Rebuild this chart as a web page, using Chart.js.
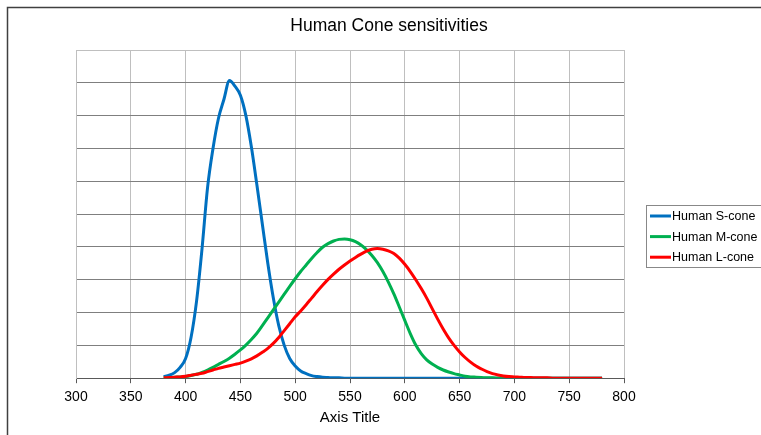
<!DOCTYPE html>
<html lang="en">
<head>
  <meta charset="UTF-8" />
  <title>Human Cone sensitivities</title>
  <script src="https://cdn.jsdelivr.net/npm/chart.js"></script>
  <style>
    html, body { margin:0; padding:0; background:#fff; }
    canvas { display:block; }
  </style>
</head>
<body>
  <canvas id="chart" width="761" height="435"></canvas>

  <script>
    const chartTitle = 'Human Cone sensitivities';
    const xTitle = 'Axis Title';
    const seriesNames = ['Human S-cone', 'Human M-cone', 'Human L-cone'];
    const seriesColors = ['#0070C0', '#00B050', '#FF0000'];

    // wavelength in nm
    const wavelengths = [
      380, 385, 390, 395, 400, 405, 410, 415, 420, 425,
      430, 435, 440, 445, 450, 455, 460, 465, 470, 475,
      480, 485, 490, 495, 500, 505, 510, 515, 520, 525,
      530, 535, 540, 545, 550, 555, 560, 565, 570, 575,
      580, 585, 590, 595, 600, 605, 610, 615, 620, 625,
      630, 635, 640, 645, 650, 655, 660, 665, 670, 675,
      680, 685, 690, 695, 700, 705, 710, 715, 720, 725,
      730, 735, 740, 745, 750, 755, 760, 765, 770, 775,
      780
    ];

    const sCone = [
      0.005, 0.009, 0.017, 0.033, 0.060, 0.125, 0.235, 0.395, 0.580, 0.700,
      0.792, 0.850, 0.907, 0.890, 0.862, 0.800, 0.705, 0.590, 0.470, 0.350,
      0.245, 0.160, 0.100, 0.060, 0.037, 0.022, 0.014, 0.008, 0.005, 0.003,
      0.002, 0.001, 0.001, 0, 0, 0, 0, 0, 0, 0,
      0, 0, 0, 0, 0, 0, 0, 0, 0, 0,
      0, 0, 0, 0, 0, 0, 0, 0, 0, 0,
      0, 0, 0, 0, 0, 0, 0, 0, 0, 0,
      0, 0, 0, 0, 0, 0, 0, 0, 0, 0,
      0
    ];

    const mCone = [
      0.001, 0.002, 0.003, 0.004, 0.005, 0.008, 0.012, 0.018, 0.025, 0.033,
      0.042, 0.051, 0.061, 0.073, 0.086, 0.101, 0.118, 0.137, 0.160, 0.184,
      0.208, 0.232, 0.256, 0.280, 0.303, 0.325, 0.345, 0.365, 0.383, 0.399,
      0.410, 0.418, 0.423, 0.424, 0.422, 0.416, 0.406, 0.392, 0.374, 0.352,
      0.325, 0.293, 0.257, 0.217, 0.176, 0.136, 0.101, 0.075, 0.056, 0.043,
      0.033, 0.025, 0.019, 0.014, 0.010, 0.006, 0.004, 0.003, 0.002, 0.001,
      0.001, 0, 0, 0, 0, 0, 0, 0, 0, 0,
      0, 0, 0, 0, 0, 0, 0, 0, 0, 0,
      0
    ];

    const lCone = [
      0.001, 0.002, 0.003, 0.004, 0.006, 0.009, 0.012, 0.015, 0.020, 0.025,
      0.030, 0.034, 0.038, 0.042, 0.046, 0.052, 0.059, 0.068, 0.079, 0.091,
      0.106, 0.124, 0.145, 0.166, 0.187, 0.205, 0.224, 0.244, 0.264, 0.283,
      0.301, 0.317, 0.332, 0.345, 0.357, 0.368, 0.378, 0.387, 0.393, 0.395,
      0.393, 0.388, 0.380, 0.366, 0.347, 0.325, 0.300, 0.273, 0.244, 0.212,
      0.180, 0.150, 0.123, 0.100, 0.080, 0.063, 0.049, 0.037, 0.028, 0.020,
      0.014, 0.010, 0.007, 0.005, 0.004, 0.003, 0.002, 0.002, 0.001, 0.001,
      0.001, 0, 0, 0, 0, 0, 0, 0, 0, 0,
      0
    ];

    const FONT = 'Liberation Sans, Arial, sans-serif';
    const toPoints = arr => wavelengths.map((w, i) => ({ x: w, y: arr[i] }));

    // frame, title and the boxed legend on the right (clipped like the original)
    const decor = {
      id: 'decor',
      afterDraw(chart) {
        const c = chart.ctx;
        c.save();
        c.strokeStyle = '#404040';
        c.lineWidth = 1.5;
        c.beginPath();
        c.moveTo(7.5, 435);
        c.lineTo(7.5, 7.5);
        c.lineTo(761, 7.5);
        c.stroke();

        c.fillStyle = '#000';
        c.font = '17.5px ' + FONT;
        c.textAlign = 'center';
        c.textBaseline = 'middle';
        c.fillText(chartTitle, 389, 26);

        c.strokeStyle = '#888';
        c.lineWidth = 1;
        c.strokeRect(646.5, 205.5, 130, 62);
        c.font = '12.5px ' + FONT;
        c.textAlign = 'left';
        chart.data.datasets.forEach((ds, i) => {
          const y = 216 + i * 20.6;
          c.strokeStyle = ds.borderColor;
          c.lineWidth = 3;
          c.beginPath();
          c.moveTo(650, y);
          c.lineTo(671, y);
          c.stroke();
          c.fillStyle = '#000';
          c.fillText(ds.label, 672, y + 0.5);
        });
        c.restore();
      }
    };

    new Chart(document.getElementById('chart'), {
      type: 'line',
      data: {
        datasets: [
          { label: seriesNames[0], data: toPoints(sCone), borderColor: seriesColors[0], order: 3 },
          { label: seriesNames[1], data: toPoints(mCone), borderColor: seriesColors[1], order: 2 },
          { label: seriesNames[2], data: toPoints(lCone), borderColor: seriesColors[2], order: 1 }
        ]
      },
      options: {
        responsive: false,
        animation: false,
        devicePixelRatio: 1,
        layout: { padding: { left: 76, right: 137, top: 50, bottom: 2 } },
        elements: {
          point: { radius: 0 },
          line: { borderWidth: 3, cubicInterpolationMode: 'monotone', fill: false }
        },
        plugins: {
          legend: { display: false },
          title: { display: false },
          tooltip: { enabled: false }
        },
        scales: {
          x: {
            type: 'linear', min: 300, max: 800,
            ticks: { stepSize: 50, color: '#000', padding: 6, font: { family: FONT, size: 14 } },
            grid: { color: '#bfbfbf', tickColor: '#595959', tickLength: 5 },
            border: { color: '#595959' },
            title: { display: true, text: xTitle, color: '#000', font: { family: FONT, size: 15 }, padding: { top: -3, bottom: 6 } }
          },
          y: {
            min: 0, max: 1,
            ticks: { display: false, stepSize: 0.1 },
            grid: { color: ctx => ctx.tick && ctx.tick.value >= 1 ? '#bfbfbf' : '#7f7f7f', drawTicks: false },
            border: { color: '#bfbfbf' }
          }
        }
      },
      plugins: [decor]
    });
  </script>
</body>
</html>
